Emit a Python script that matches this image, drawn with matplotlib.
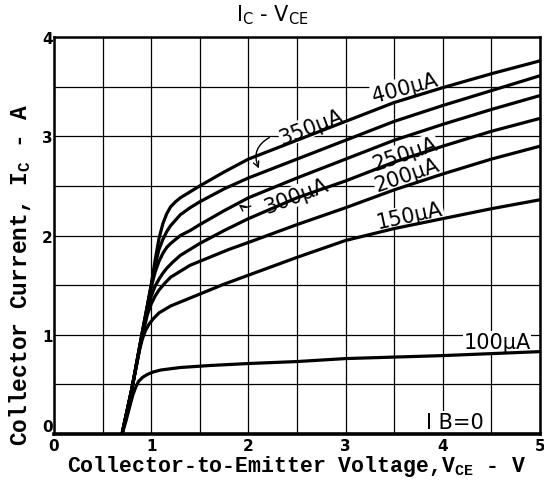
import matplotlib
matplotlib.use("Agg")
import matplotlib.pyplot as plt

plt.rcParams['mathtext.fontset'] = 'custom'
plt.rcParams['mathtext.rm'] = 'Liberation Mono:bold'
plt.rcParams['mathtext.sf'] = 'DejaVu Sans'

# I_C - V_CE curves (V, A)
v_400 = [0.70, 0.80, 0.90, 1.00, 1.04, 1.08, 1.12, 1.16, 1.20, 1.25, 1.30, 1.40, 1.50, 1.75, 2.0, 2.5, 3.0, 3.5, 4.0, 4.5, 5.0]
i_400 = [0.00, 0.45, 0.98, 1.50, 1.75, 1.97, 2.12, 2.22, 2.29, 2.34, 2.38, 2.44, 2.50, 2.64, 2.77, 2.96, 3.15, 3.34, 3.49, 3.63, 3.76]

v_350 = [0.70, 0.80, 0.90, 1.00, 1.04, 1.08, 1.12, 1.16, 1.20, 1.30, 1.40, 1.50, 1.75, 2.0, 2.5, 3.0, 3.5, 4.0, 4.5, 5.0]
i_350 = [0.00, 0.45, 0.98, 1.50, 1.70, 1.86, 1.96, 2.04, 2.10, 2.21, 2.28, 2.34, 2.47, 2.58, 2.77, 2.96, 3.15, 3.31, 3.46, 3.61]

v_300 = [0.70, 0.80, 0.90, 1.00, 1.04, 1.08, 1.12, 1.16, 1.20, 1.30, 1.40, 1.50, 1.75, 2.0, 2.5, 3.0, 3.5, 4.0, 4.5, 5.0]
i_300 = [0.00, 0.45, 0.98, 1.48, 1.63, 1.74, 1.82, 1.88, 1.92, 2.00, 2.05, 2.11, 2.25, 2.38, 2.58, 2.77, 2.96, 3.12, 3.27, 3.41]

v_250 = [0.70, 0.80, 0.90, 0.97, 1.00, 1.04, 1.08, 1.12, 1.16, 1.22, 1.30, 1.40, 1.50, 1.75, 2.0, 2.5, 3.0, 3.5, 4.0, 4.5, 5.0]
i_250 = [0.00, 0.45, 0.97, 1.30, 1.39, 1.49, 1.56, 1.62, 1.67, 1.73, 1.80, 1.86, 1.92, 2.05, 2.17, 2.38, 2.55, 2.74, 2.90, 3.05, 3.18]

v_200 = [0.70, 0.80, 0.90, 0.96, 1.00, 1.04, 1.08, 1.14, 1.20, 1.30, 1.40, 1.60, 1.80, 2.0, 2.5, 3.0, 3.5, 4.0, 4.5, 5.0]
i_200 = [0.00, 0.45, 0.95, 1.20, 1.31, 1.39, 1.45, 1.52, 1.58, 1.64, 1.70, 1.78, 1.86, 1.93, 2.11, 2.28, 2.46, 2.62, 2.77, 2.90]

v_150 = [0.70, 0.80, 0.88, 0.91, 0.94, 0.98, 1.02, 1.08, 1.20, 1.35, 1.50, 1.75, 2.0, 2.5, 3.0, 3.5, 4.0, 4.5, 5.0]
i_150 = [0.00, 0.45, 0.85, 0.96, 1.04, 1.11, 1.16, 1.22, 1.29, 1.35, 1.41, 1.51, 1.60, 1.78, 1.95, 2.07, 2.17, 2.27, 2.36]

v_100 = [0.70, 0.74, 0.78, 0.81, 0.84, 0.87, 0.91, 0.96, 1.02, 1.10, 1.30, 1.60, 2.0, 2.5, 3.0, 3.5, 4.0, 4.5, 5.0]
i_100 = [0.00, 0.13, 0.28, 0.39, 0.47, 0.53, 0.57, 0.60, 0.625, 0.645, 0.67, 0.69, 0.71, 0.73, 0.76, 0.775, 0.79, 0.81, 0.83]

curves = [(v_400, i_400), (v_350, i_350), (v_300, i_300), (v_250, i_250),
          (v_200, i_200), (v_150, i_150), (v_100, i_100)]

# curve labels: text, x, y, rotation
labels = [("400μA", 3.61, 3.49, 15), ("350μA", 2.65, 3.10, 21),
          ("300μA", 2.49, 2.40, 21), ("250μA", 3.61, 2.83, 19),
          ("200μA", 3.63, 2.61, 19), ("150μA", 3.66, 2.20, 12),
          ("100μA", 4.56, 0.93, 0), ("I B=0", 4.12, 0.12, 0)]

fig = plt.figure(figsize=(5.44, 4.85), dpi=100)
ax = fig.add_axes([0.0993, 0.1031, 0.8933, 0.8185])

for v, i in curves:
    ax.plot(v, i, color="black", lw=2.3, solid_joinstyle="round", zorder=3)

lab_font = dict(family="DejaVu Sans", fontsize=15)
for txt, x, y, rot in labels:
    ax.text(x, y, txt, rotation=rot, ha="center", va="center", zorder=2,
            rotation_mode="anchor",
            bbox=dict(facecolor="white", edgecolor="none", pad=0.5), **lab_font)

# leader arrows
ax.annotate("", xy=(2.12, 2.65), xytext=(2.24, 3.0), zorder=4,
            arrowprops=dict(arrowstyle="->", lw=1, color="black",
                            connectionstyle="arc3,rad=0.5"))
ax.annotate("", xy=(1.88, 2.33), xytext=(2.05, 2.31), zorder=4,
            arrowprops=dict(arrowstyle="->", lw=1, color="black",
                            connectionstyle="arc3,rad=-0.4"))

ax.set_xlim(0, 5)
ax.set_ylim(0, 4)
ax.set_xticks([0, 1, 2, 3, 4, 5])
ax.set_yticks([0, 1, 2, 3, 4])
ax.set_xticks([0.5, 1.5, 2.5, 3.5, 4.5], minor=True)
ax.set_yticks([0.5, 1.5, 2.5, 3.5], minor=True)
ax.set_axisbelow(True)
ax.grid(True, which="both", color="black", lw=0.9)
ax.tick_params(which="both", length=0)
ax.tick_params(axis="x", pad=3)
ax.tick_params(axis="y", pad=1)
for t in ax.get_xticklabels() + ax.get_yticklabels():
    t.set_fontweight("bold")
    t.set_fontsize(11)
ax.get_yticklabels()[0].set_verticalalignment("bottom")
for s in ax.spines.values():
    s.set_linewidth(1.8)
ax.spines["bottom"].set_linewidth(2.6)

fig.text(0.5, 0.968, "I$_\\mathsf{C}$ - V$_\\mathsf{CE}$", ha="center", va="center",
         fontsize=15, family="DejaVu Sans")
fig.text(0.546, 0.039, "Collector-to-Emitter Voltage,V$_\\mathrm{CE}$ - V", ha="center", va="center",
         fontsize=15.5, family="Liberation Mono", fontweight="bold")
fig.text(0.037, 0.433, "Collector Current, I$_\\mathrm{C}$ - A", ha="center", va="center", rotation=90,
         fontsize=16.5, family="Liberation Mono", fontweight="bold")

fig.savefig("out.png", dpi=100)
